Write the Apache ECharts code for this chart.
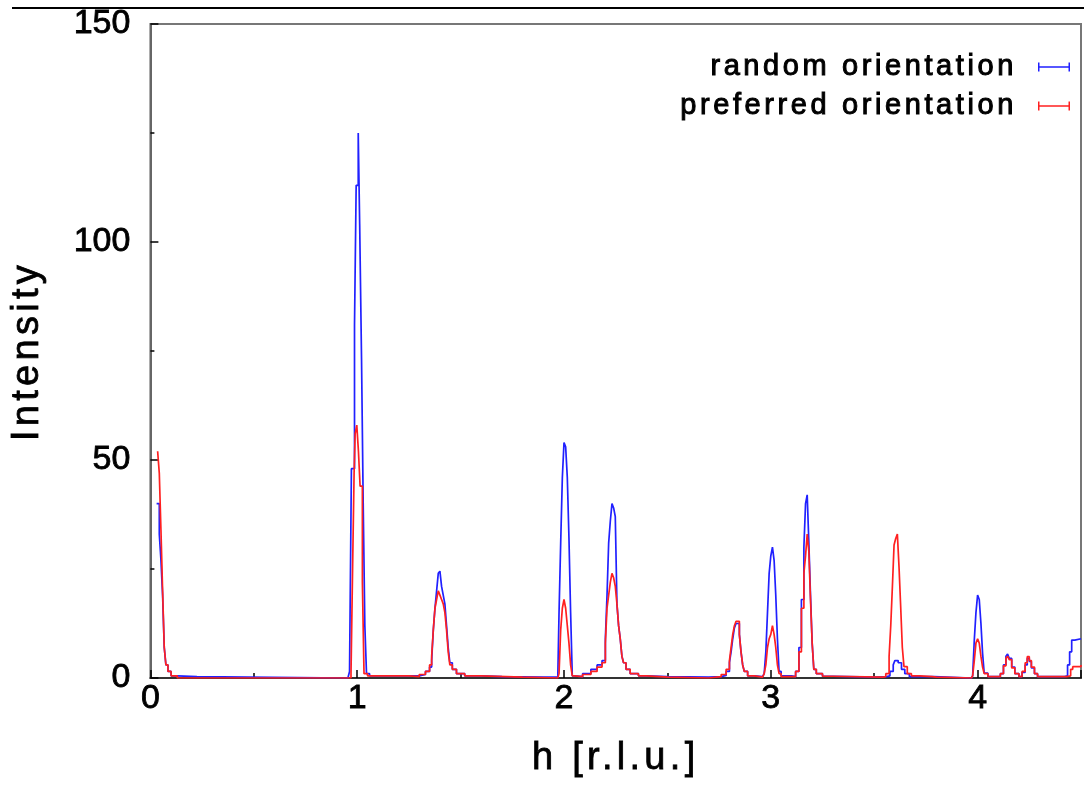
<!DOCTYPE html>
<html>
  <head>
    <meta charset="UTF-8">
    <script src="https://cdn.jsdelivr.net/npm/echarts@6/dist/echarts.min.js"></script>
    <title>Intensity vs h</title>
    <style>
      html, body { margin: 0; padding: 0; background: #fff; }
    </style>
  </head>
  <body>
    <div id="main" style="width:1084px;height:790px;"></div>
  </body>

  <script>
// data: [h, intensity], drawn as steps
var randomOrientation = [
  [0.030,40],[0.043,33],[0.051,27],[0.059,19],[0.067,7],[0.075,3],[0.085,1.5],[0.100,0.5],[0.130,0.3],[0.225,0],
  [0.955,0],[0.963,1.5],[0.972,48],[0.987,81],[0.995,113],[1.005,125],[1.012,104],[1.021,73],[1.029,40],[1.037,12],[1.045,1],[1.060,0.5],[1.150,0.5],
  [1.250,0.5],[1.300,0.8],[1.330,1.5],[1.350,2.5],[1.360,4],[1.368,11],[1.376,16],[1.384,20],[1.392,24],[1.400,24.5],[1.408,21],[1.416,19],[1.424,17],[1.432,12],[1.440,7],[1.448,3.5],[1.460,2],[1.480,1],[1.520,0.5],[1.600,0.3],[1.700,0.2],[1.900,0.2],
  [1.970,0],[1.976,15],[1.984,31],[1.992,46],[2.000,54],[2.008,53],[2.016,46],[2.024,32],[2.032,15],[2.040,0.5],
  [2.050,0.3],[2.090,1],[2.130,2],[2.160,3],[2.184,4],[2.200,9],[2.208,19],[2.216,31],[2.224,36],[2.232,40],[2.240,39],[2.248,37],[2.256,17],[2.264,12],[2.272,9],[2.280,5],[2.288,3.5],[2.300,2],[2.320,1],[2.360,0.5],[2.400,0.3],[2.500,0.2],
  [2.700,0.3],[2.760,0.6],[2.784,1.5],[2.800,3.5],[2.808,6],[2.816,9],[2.824,11.5],[2.832,12.5],[2.840,12.5],[2.848,10],[2.856,6],[2.864,3],[2.872,1.5],[2.888,0.5],[2.920,0.3],
  [2.960,0.3],[2.968,1],[2.976,6],[2.984,15],[2.992,24],[3.000,28],[3.008,30],[3.016,27],[3.024,19],[3.032,9],[3.040,1.5],[3.050,0.5],
  [3.100,0.3],[3.120,1.5],[3.136,7],[3.148,18],[3.160,30],[3.168,40],[3.176,42],[3.184,31],[3.192,19],[3.200,8],[3.208,2],[3.220,1],[3.250,0.4],[3.300,0.2],
  [3.500,0.3],[3.560,0.5],[3.576,1.5],[3.592,3],[3.600,4],[3.616,3.5],[3.632,2],[3.648,1],[3.670,0.3],[3.790,0],
  [3.970,0],[3.976,0.5],[3.984,8.7],[3.992,15],[4.000,19],[4.008,18],[4.016,12.6],[4.024,5.7],[4.032,1.1],[4.050,0.3],
  [4.090,0.3],[4.110,1],[4.125,3],[4.137,5],[4.145,5.5],[4.153,4.5],[4.165,2.5],[4.180,1],[4.200,0.3],
  [4.215,1.3],[4.230,3],[4.240,4.5],[4.250,3.8],[4.260,2.3],[4.275,1],[4.290,0.3],
  [4.420,0.5],[4.435,3],[4.445,6],[4.455,8.7],[4.470,9],[4.500,9]
];
var preferredOrientation = [
  [0.035,52],[0.043,47],[0.051,34],[0.059,20],[0.067,7],[0.075,3],[0.085,1.5],[0.100,0.5],[0.130,0],
  [0.960,0],[0.970,1],[0.978,26],[0.985,47],[0.990,56],[0.998,58],[1.006,52],[1.014,44],[1.025,22],[1.033,1],[1.050,0.5],[1.150,0.5],
  [1.250,0.3],[1.300,0.8],[1.330,1.5],[1.350,3],[1.360,5],[1.368,11],[1.376,16],[1.384,18],[1.392,20],[1.400,19],[1.408,18],[1.416,17],[1.424,15],[1.432,11],[1.440,6],[1.448,3],[1.460,2],[1.480,1],[1.520,0.5],[1.600,0.2],[1.800,0],
  [1.970,0],[1.976,1],[1.984,11],[1.992,16],[2.000,18],[2.008,16],[2.016,12],[2.024,8],[2.032,3],[2.040,0.5],
  [2.050,0.3],[2.090,0.8],[2.130,1.5],[2.160,2.5],[2.184,3.5],[2.200,8],[2.208,16],[2.216,19],[2.224,22],[2.232,24],[2.240,23],[2.248,21],[2.256,17],[2.264,12],[2.272,9],[2.280,5],[2.288,3.5],[2.300,2],[2.320,1],[2.360,0.5],[2.400,0.2],[2.500,0],
  [2.700,0.3],[2.760,0.8],[2.784,2],[2.800,4],[2.808,7],[2.816,10],[2.824,12],[2.832,13],[2.840,13],[2.848,10],[2.856,6],[2.864,3],[2.872,1.5],[2.888,0.5],[2.920,0.2],
  [2.960,0.3],[2.968,1],[2.976,3],[2.984,7],[2.992,9],[3.000,10],[3.008,12],[3.016,10],[3.024,7],[3.032,3],[3.040,1],[3.050,0.3],
  [3.100,0.3],[3.120,1.5],[3.136,6],[3.148,16],[3.160,24],[3.168,28],[3.176,33],[3.184,29],[3.192,18],[3.200,8],[3.208,2],[3.220,1],[3.250,0.4],[3.300,0.2],
  [3.540,0.3],[3.556,1],[3.572,5],[3.580,12],[3.588,21],[3.596,30.5],[3.604,32],[3.612,33],[3.620,25.5],[3.628,16.4],[3.636,7],[3.644,2.6],[3.660,1],[3.680,0.5],[3.720,0.3],[3.780,0.2],[3.800,0],
  [3.970,0],[3.976,0.5],[3.984,4],[3.992,8],[4.000,9],[4.008,8],[4.016,5],[4.024,2.5],[4.032,1],[4.050,0.3],
  [4.090,0.3],[4.110,1],[4.125,2.8],[4.137,4.5],[4.145,5],[4.153,4.2],[4.165,2.3],[4.180,1],[4.200,0.3],
  [4.215,1.5],[4.230,3.5],[4.240,4.9],[4.250,4],[4.260,2.5],[4.275,1],[4.290,0.3],
  [4.430,0.5],[4.450,2],[4.460,2.6],[4.500,3]
];
var seriesNames = ['random orientation', 'preferred orientation'];
var xRange = [0, 4.5];
var yRange = [0, 150];

// gnuplot-style wide letter spacing for the legend and axis titles (keyed by font size)
var SPACING = { 29: '3.6px', 38: '4.3px' };
function spaced(orig) {
  return function () {
    var m = /(\d+)px/.exec(this.font);
    if ('letterSpacing' in this) this.letterSpacing = (m && SPACING[m[1]]) || '0px';
    return orig.apply(this, arguments);
  };
}
CanvasRenderingContext2D.prototype.fillText = spaced(CanvasRenderingContext2D.prototype.fillText);
CanvasRenderingContext2D.prototype.strokeText = spaced(CanvasRenderingContext2D.prototype.strokeText);

var font = 'Liberation Sans';
var errIcon = 'path://M0,0h1.5v9h-1.5z M0,3.75h32v1.5h-32z M30.5,0h1.5v9h-1.5z';

var chart = echarts.init(document.getElementById('main'), null, { renderer: 'canvas' });

option = {
    animation: false,
    backgroundColor: '#fff',
    textStyle: { fontFamily: font },
    grid: {
        left: 150,
        top: 24,
        width: 937.5,
        height: 654,
        show: true,
        borderColor: '#777',
        borderWidth: 2,
        backgroundColor: 'transparent'
    },
    legend: {
        orient: 'vertical',
        right: 9,
        top: 47,
        align: 'right',
        itemWidth: 32,
        itemHeight: 9,
        itemGap: 9,
        icon: errIcon,
        selectedMode: false,
        itemStyle: { borderWidth: 0 },
        textStyle: {
            fontSize: 29, color: '#000', fontFamily: font, padding: [0, 16, 0, 0],
            textBorderColor: '#000', textBorderWidth: 1
        },
        data: seriesNames
    },
    graphic: [{
        type: 'line',
        shape: { x1: 12, y1: 8, x2: 1084, y2: 8 },
        style: { stroke: '#000', lineWidth: 2 }
    }],
    xAxis: {
        type: 'value',
        min: xRange[0],
        max: xRange[1],
        interval: 1,
        name: 'h [r.l.u.]',
        nameLocation: 'middle',
        nameGap: 62,
        nameTextStyle: { fontSize: 38, color: '#000', fontFamily: font, textBorderColor: '#000', textBorderWidth: 0.8 },
        axisLine: { show: true, onZero: false, lineStyle: { color: '#333', width: 2 } },
        axisTick: { show: true, inside: true, length: 8, lineStyle: { color: '#000', width: 1.5 } },
        minorTick: { show: true, splitNumber: 2, length: 5, lineStyle: { color: '#000', width: 1.5 } },
        splitLine: { show: false },
        axisLabel: {
            fontSize: 34, color: '#000', margin: 4, fontFamily: font,
            textBorderColor: '#000', textBorderWidth: 0.8,
            formatter: function (v) { return v % 1 === 0 ? String(v) : ''; }
        }
    },
    yAxis: {
        type: 'value',
        min: yRange[0],
        max: yRange[1],
        interval: 50,
        name: 'Intensity',
        nameLocation: 'middle',
        nameRotate: 90,
        nameGap: 104,
        nameTextStyle: { fontSize: 38, color: '#000', fontFamily: font, textBorderColor: '#000', textBorderWidth: 0.8 },
        axisLine: { show: true, lineStyle: { color: '#666', width: 2 } },
        axisTick: { show: true, inside: true, length: 8, lineStyle: { color: '#000', width: 1.5 } },
        minorTick: { show: true, splitNumber: 2, length: 4, lineStyle: { color: '#000', width: 1.5 } },
        splitLine: { show: false },
        axisLabel: { fontSize: 34, color: '#000', margin: 20, fontFamily: font, textBorderColor: '#000', textBorderWidth: 0.8 }
    },
    series: [
        {
            name: seriesNames[0],
            type: 'line',
            step: 'end',
            showSymbol: false,
            symbol: 'none',
            color: '#2020ff',
            lineStyle: { color: '#2020ff', width: 1.7 },
            data: randomOrientation
        },
        {
            name: seriesNames[1],
            type: 'line',
            step: 'end',
            showSymbol: false,
            symbol: 'none',
            color: '#ff2020',
            lineStyle: { color: '#ff2020', width: 1.7 },
            data: preferredOrientation
        }
    ]
};

chart.setOption(option);
  </script>
</html>
